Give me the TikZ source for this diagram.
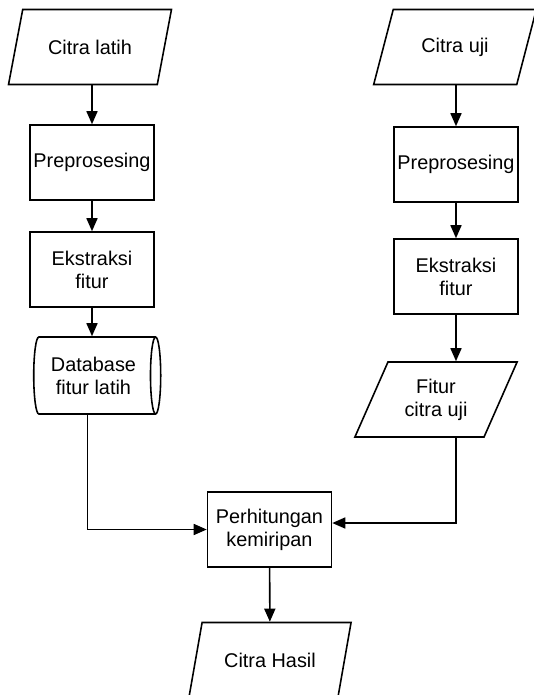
\documentclass[tikz,border=0pt]{standalone}
\usepackage{fontspec}
\setmainfont{Liberation Sans}
\usetikzlibrary{arrows.meta, shapes.geometric}

\begin{document}
\begin{tikzpicture}[
  every node/.style={font=\fontsize{11.3}{13}\selectfont, align=center, line width=0.9pt},
  io/.style={draw, trapezium, trapezium left angle=63, trapezium right angle=117,
    trapezium stretches=true, minimum width=3.26cm, minimum height=1.5cm, inner sep=1pt},
  process/.style={draw, rectangle, minimum width=2.48cm, minimum height=1.5cm, inner sep=1pt},
  store/.style={draw, cylinder, aspect=0.25, minimum width=1.54cm, minimum height=2.54cm, inner sep=1pt},
  arr/.style={line width=0.9pt, -{Triangle[length=2.6mm, width=2.2mm]}}]
\useasboundingbox (0,0) rectangle (10.68,-13.9);
% training branch
\node[io] (inL) at (1.8,-0.94) {Citra latih};
\node[process] (preL) at (1.84,-3.25) {Preprosesing};
\node[process] (ekL) at (1.84,-5.39) {Ekstraksi\\fitur};
\node[store] (db) at (1.87,-7.51) {Database\\fitur latih};
% test branch
\node[io] (inR) at (9.1,-0.94) {Citra uji};
\node[process] (preR) at (9.12,-3.29) {Preprosesing};
\node[process] (ekR) at (9.12,-5.53) {Ekstraksi\\fitur};
\node[io] (fitR) at (8.72,-7.99) {Fitur\\citra uji};
% matching
\node[process] (hit) at (5.39,-10.59) {Perhitungan\\kemiripan};
\node[io] (out) at (5.4,-13.2) {Citra Hasil};
\draw[arr] (inL.south -| preL) -- (preL);
\draw[arr] (preL) -- (ekL);
\draw[arr] (ekL.south) -- (ekL.south |- db.north);
\draw[arr] (inR.south -| preR) -- (preR);
\draw[arr] (preR) -- (ekR);
\draw[arr] (ekR.south) -- (ekR.south |- fitR.north);
\draw[arr] ([xshift=-0.12cm]db.south) |- (hit.west);
\draw[arr] (ekR.south |- fitR.south) |- ([yshift=0.13cm]hit.east);
\draw[arr] (hit) -- (out);
\end{tikzpicture}
\end{document}
